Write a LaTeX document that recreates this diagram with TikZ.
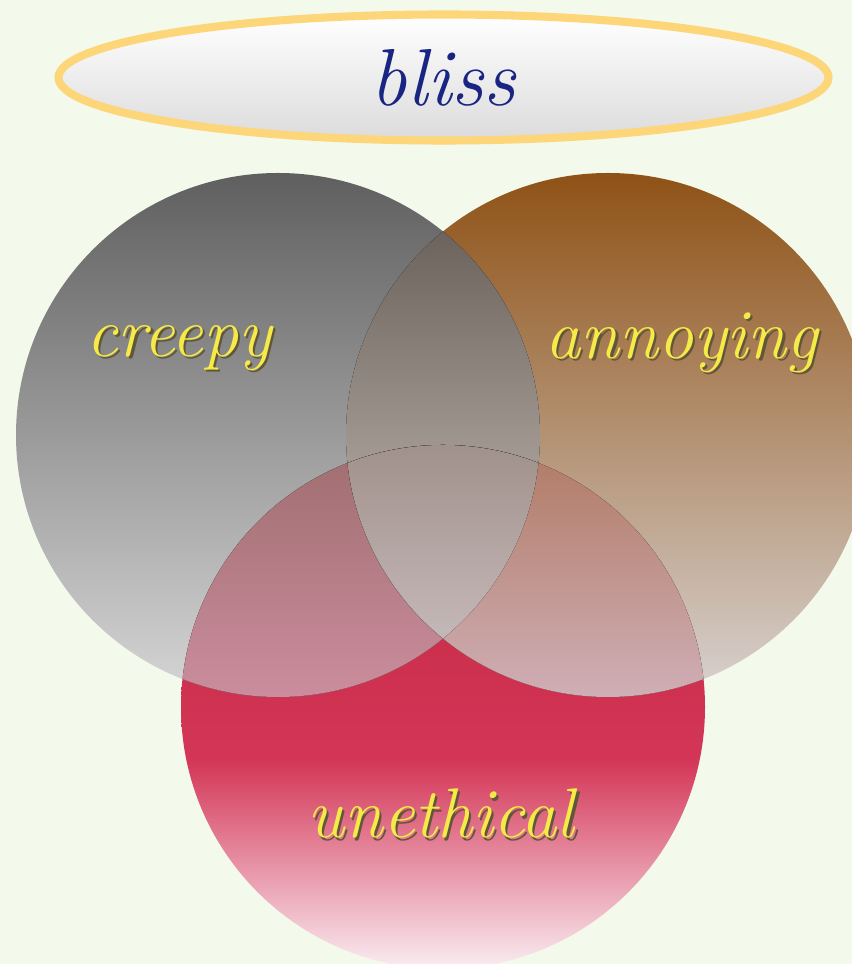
\documentclass[tikz,border=0pt]{standalone}
\usepackage{fontspec}
\usepackage{tikz}
\usetikzlibrary{positioning,shapes.geometric}
\definecolor{paper}{RGB}{243,249,235}
\definecolor{halo}{RGB}{253,214,122}
\definecolor{blissink}{RGB}{26,36,130}
\definecolor{yellowink}{RGB}{246,234,72}
\definecolor{inkshade}{RGB}{96,86,56}
\definecolor{greytop}{RGB}{95,95,95}
\definecolor{greybot}{RGB}{214,214,214}
\definecolor{browntop}{RGB}{143,82,22}
\definecolor{brownbot}{RGB}{216,210,208}
\definecolor{catop}{RGB}{108,100,92}
\definecolor{cabot}{RGB}{204,196,189}
\definecolor{cutop}{RGB}{158,108,110}
\definecolor{cubot}{RGB}{204,142,158}
\definecolor{autop}{RGB}{176,120,98}
\definecolor{aubot}{RGB}{208,176,184}
\definecolor{alltop}{RGB}{160,144,138}
\definecolor{allbot}{RGB}{196,184,184}
% red disc: strong red on top, fading to white at the bottom
\pgfdeclareverticalshading{redfade}{100bp}{rgb(0bp)=(0.98,0.93,0.95); rgb(25bp)=(0.98,0.93,0.95);
  rgb(45bp)=(0.83,0.21,0.34); rgb(75bp)=(0.74,0.15,0.23); rgb(100bp)=(0.74,0.15,0.23)}
\newcommand{\shadowed}[1]{\makebox[0pt][l]{\kern0.6pt\raisebox{-0.6pt}{\color{inkshade}#1}}#1}
\tikzset{
  venn/.style={circle, minimum size=5.24cm, inner sep=0pt},
  lens/.style={radius=2.62},
  lbl/.style={font=\fontsize{20}{24}\selectfont\itshape, text=yellowink, inner sep=0pt},
  blissbox/.style={ellipse, draw=halo, line width=2.3pt, top color=white, bottom color=black!14,
                   minimum width=7.7cm, minimum height=1.26cm, inner sep=0pt,
                   font=\fontsize{23}{26}\selectfont\itshape, text=blissink},
}

\begin{document}
\begin{tikzpicture}
    \useasboundingbox (0,0) rectangle (8.52,9.64);
    \fill[paper] (0,0) rectangle (8.52,9.64);
    \clip (0,0) rectangle (8.52,9.64);

    \node[venn, shading=redfade] (unethical) at (4.43,2.57) {};
    \node[venn, top color=browntop, bottom color=brownbot] (annoying) at (6.08,5.29) {};
    \node[venn, top color=greytop, bottom color=greybot] (creepy) at (2.78,5.29) {};

    % overlaps, each one path made of arcs
    \fill[lens, top color=catop, bottom color=cabot] (4.43,7.325)
      arc[start angle=129.04, end angle=230.96] arc[start angle=-50.96, end angle=50.96] -- cycle;
    \fill[lens, top color=cutop, bottom color=cubot] (5.385,5.01)
      arc[start angle=-6.13, end angle=-111.37] arc[start angle=173.87, end angle=68.63] -- cycle;
    \fill[lens, top color=autop, bottom color=aubot] (3.475,5.01)
      arc[start angle=186.13, end angle=291.37] arc[start angle=6.13, end angle=111.37] -- cycle;
    \fill[lens, top color=alltop, bottom color=allbot] (3.475,5.01)
      arc[start angle=111.37, end angle=68.63] arc[start angle=-6.13, end angle=-50.96]
      arc[start angle=230.96, end angle=186.13] -- cycle;

    \node[blissbox] (bliss) at (4.435,8.865) {bliss};
    \node[lbl] (creepylbl) at (1.79,6.15) {\shadowed{creepy}};
    \node[lbl] (annoyinglbl) at (6.82,6.20) {\shadowed{annoying}};
    \node[lbl] (unethicallbl) at (4.41,1.49) {\shadowed{unethical}};
\end{tikzpicture}
\end{document}
